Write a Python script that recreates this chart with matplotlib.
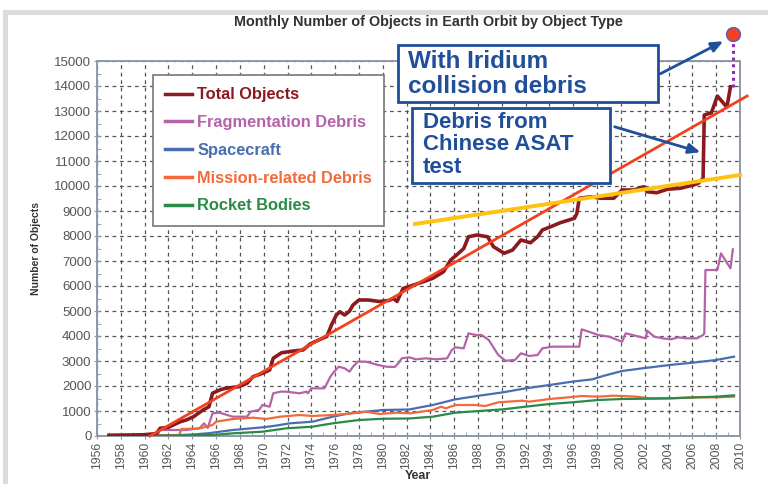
import matplotlib
matplotlib.use("Agg")
import matplotlib.pyplot as plt
from matplotlib.patches import Rectangle
from matplotlib.ticker import MultipleLocator

plt.rcParams['font.family'] = ['Liberation Sans', 'DejaVu Sans']

# ---------------- data ----------------
total_years = [1957.0, 1960.0, 1961.0, 1961.3, 1962.0, 1963.0, 1963.5, 1964.1, 1964.9, 1965.4,
               1965.7, 1966.3, 1966.8, 1967.9, 1968.6, 1969.1, 1969.9, 1970.5, 1970.8, 1971.5,
               1972.5, 1973.3, 1973.9, 1974.7, 1975.3, 1975.7, 1976.1, 1976.4, 1976.8, 1977.2,
               1977.5, 1978.0, 1978.8, 1979.7, 1980.5, 1980.9, 1981.2, 1981.7, 1982.6, 1983.4,
               1984.2, 1985.1, 1985.7, 1986.2, 1986.8, 1987.2, 1987.9, 1988.8, 1989.3, 1990.2,
               1990.9, 1991.6, 1992.4, 1993.0, 1993.4, 1994.1, 1994.9, 1996.1, 1996.3, 1996.5,
               1997.5, 1998.3, 1999.4, 2000.1, 2001.1, 2001.9, 2002.2, 2003.0, 2003.9, 2005.0,
               2006.1, 2006.5, 2006.9, 2007.0, 2007.6, 2008.1, 2008.9, 2009.2]
total_values = [30, 50, 100, 310, 350, 573, 640, 770, 1040, 1170,
                1710, 1840, 1910, 1970, 2110, 2370, 2510, 2640, 3110, 3330,
                3400, 3440, 3680, 3860, 3980, 4450, 4840, 4970, 4840, 4990,
                5240, 5440, 5440, 5380, 5420, 5500, 5380, 5900, 6040, 6170,
                6310, 6570, 7040, 7240, 7500, 7970, 8040, 7970, 7570, 7310,
                7440, 7840, 7730, 7970, 8240, 8370, 8530, 8710, 8900, 9510,
                9570, 9510, 9510, 9840, 9840, 9970, 9770, 9730, 9870, 9910,
                10040, 10110, 10310, 12840, 12930, 13600, 13150, 13970]

frag_years = [1957.0, 1961.0, 1961.3, 1963.5, 1964.6, 1965.0, 1965.3, 1965.7, 1966.3, 1967.4,
              1968.6, 1968.9, 1969.6, 1969.9, 1970.5, 1970.8, 1971.4, 1971.9, 1973.0, 1973.6,
              1973.7, 1974.0, 1975.1, 1975.6, 1975.8, 1976.3, 1976.8, 1977.2, 1977.5, 1977.9,
              1978.6, 1979.6, 1980.3, 1981.0, 1981.3, 1981.6, 1982.2, 1982.8, 1983.6, 1984.5,
              1985.4, 1985.8, 1986.1, 1986.8, 1987.2, 1987.8, 1988.3, 1988.9, 1989.7, 1990.3,
              1991.1, 1991.6, 1992.3, 1993.0, 1993.4, 1994.2, 1995.6, 1996.5, 1996.7, 1997.3,
              1998.1, 1999.0, 2000.1, 2000.4, 2001.3, 2002.1, 2002.2, 2002.8, 2003.5, 2004.2,
              2004.8, 2005.5, 2006.4, 2006.9, 2007.0, 2007.1, 2008.1, 2008.4, 2009.2, 2009.4]
frag_values = [0, 0, 240, 240, 307, 507, 320, 907, 933, 773,
               773, 973, 1040, 1240, 1173, 1707, 1773, 1773, 1707, 1773,
               1707, 1907, 1907, 2373, 2507, 2773, 2707, 2573, 2773, 2973,
               2973, 2840, 2773, 2760, 2907, 3107, 3147, 3067, 3107, 3067,
               3107, 3440, 3547, 3507, 4107, 4040, 4040, 3840, 3240, 3013,
               3040, 3307, 3200, 3240, 3507, 3573, 3573, 3573, 4267, 4173,
               4040, 3973, 3773, 4107, 4000, 3907, 4213, 3973, 3907, 3867,
               3947, 3907, 3907, 4040, 4100, 6640, 6640, 7307, 6707, 7467]

sc_years = [1957.0, 1962.0, 1964.0, 1965.3, 1967.4, 1969.9, 1971.0, 1972.2, 1974.1, 1975.8,
            1977.2, 1978.6, 1980.0, 1982.2, 1984.2, 1986.1, 1988.1, 1990.1, 1992.0, 1994.0,
            1995.9, 1997.6, 1998.5, 2000.1, 2001.8, 2004.1, 2006.3, 2008.0, 2009.5]
sc_values = [0, 20, 60, 107, 240, 347, 413, 507, 573, 773,
             907, 973, 1040, 1060, 1240, 1467, 1613, 1747, 1907, 2040,
             2173, 2267, 2400, 2600, 2707, 2840, 2947, 3040, 3173]

mission_years = [1957.0, 1962.9, 1963.1, 1964.6, 1965.7, 1966.0, 1967.4, 1969.1, 1970.2, 1971.4,
                 1973.0, 1974.1, 1975.8, 1977.5, 1978.6, 1979.7, 1981.2, 1982.3, 1984.2, 1984.9,
                 1985.3, 1986.1, 1987.8, 1988.6, 1989.7, 1991.7, 1992.3, 1994.0, 1995.6, 1996.7,
                 1998.1, 1999.3, 2000.1, 2001.3, 2002.4, 2004.1, 2006.3, 2008.0, 2009.5]
mission_values = [0, 40, 280, 300, 440, 573, 680, 733, 680, 773,
                  840, 800, 840, 907, 973, 880, 933, 907, 1040, 1173,
                  1107, 1240, 1240, 1200, 1347, 1413, 1373, 1480, 1547, 1600,
                  1573, 1613, 1600, 1573, 1507, 1507, 1547, 1547, 1573]

rb_years = [1957.0, 1962.0, 1965.7, 1967.4, 1969.9, 1971.9, 1974.1, 1975.8, 1978.0, 1980.0,
            1982.2, 1984.2, 1986.1, 1988.1, 1990.1, 1992.0, 1994.0, 1995.9, 1998.1, 2000.1,
            2002.4, 2004.1, 2006.3, 2008.0, 2009.5]
rb_values = [0, 20, 40, 107, 173, 307, 373, 507, 640, 690,
             700, 773, 933, 1000, 1067, 1173, 1280, 1347, 1440, 1480,
             1493, 1507, 1547, 1573, 1627]

trend_red_x = [1960.45, 2010.6]
trend_red_y = [0, 13600]
trend_yellow_x = [1982.7, 2010.0]
trend_yellow_y = [8480, 10440]

iridium_point = (2009.4, 16080)
iridium_base_y = 13970

labels = ["Total Objects", "Fragmentation Debris", "Spacecraft",
          "Mission-related Debris", "Rocket Bodies"]
colors = ["#8B1A1F", "#B463A8", "#4A6DB0", "#F26A3C", "#2A8A48"]

# ---------------- figure ----------------
W, H = 768, 484
fig = plt.figure(figsize=(W / 100, H / 100), dpi=100)
fig.patch.set_facecolor("white")

def fx(px):
    return px / W

def fy(py):
    return 1 - py / H

# grey frame
fig.patches.append(Rectangle((fx(3), fy(15)), fx(765), 5 / H, transform=fig.transFigure,
                             facecolor="#DCDCDC", edgecolor="none", zorder=0))
fig.patches.append(Rectangle((fx(3), 0), 5 / W, fy(15), transform=fig.transFigure,
                             facecolor="#DCDCDC", edgecolor="none", zorder=0))

ax = fig.add_axes([fx(97), fy(436), (740 - 97) / W, (436 - 61) / H])

ax.set_xlim(1956, 2010)
ax.set_ylim(0, 15000)

ax.plot(frag_years, frag_values, color=colors[1], lw=1.6, zorder=3, label=labels[1])
ax.plot(sc_years, sc_values, color=colors[2], lw=1.6, zorder=3, label=labels[2])
ax.plot(mission_years, mission_values, color=colors[3], lw=1.6, zorder=3, label=labels[3])
ax.plot(rb_years, rb_values, color=colors[4], lw=1.6, zorder=3, label=labels[4])
ax.plot(total_years, total_values, color=colors[0], lw=2.6, zorder=4, label=labels[0])

ax.plot(trend_red_x, trend_red_y, color="#F2411F", lw=2.0, zorder=5, clip_on=False)
ax.plot(trend_yellow_x, trend_yellow_y, color="#FFC20E", lw=2.8, zorder=5, clip_on=False)

# Iridium marker and dotted line
ax.plot([iridium_point[0], iridium_point[0]], [iridium_base_y, iridium_point[1]],
        color="#8A2BB0", lw=2.2, ls=(0, (1, 1.2)), zorder=6, clip_on=False)
ax.plot([iridium_point[0]], [iridium_point[1]], marker="o", ms=10, mfc="#F2411F",
        mec="#5A5AC8", mew=1, zorder=7, clip_on=False)

# axes styling
ax.xaxis.set_major_locator(MultipleLocator(2))
ax.xaxis.set_minor_locator(MultipleLocator(1))
ax.yaxis.set_major_locator(MultipleLocator(1000))
ax.yaxis.set_minor_locator(MultipleLocator(500))
ax.grid(True, which="major", color="#555555", ls=(0, (3, 3)), lw=0.9, zorder=1)
ax.tick_params(axis="x", which="major", labelrotation=90, labelsize=8.8,
               labelcolor="#555555", color="#8C99A6", length=4, direction="inout", pad=2)
ax.tick_params(axis="y", which="major", labelsize=9.5, labelcolor="#555555",
               color="#8C99A6", length=4, direction="inout", pad=2)
ax.tick_params(which="minor", color="#8C99A6", length=3, direction="in")
for s in ax.spines.values():
    s.set_color("#8C99A6")
    s.set_linewidth(1.4)

ax.set_xticks(range(1956, 2011, 2))
ax.set_xticklabels([str(y) for y in range(1956, 2011, 2)])

ax.set_ylabel("Number of Objects", fontsize=7.5, fontweight="bold", color="#333333", labelpad=10)
fig.text(fx(418), fy(476), "Year", ha="center", va="center",
         fontsize=9, fontweight="bold", color="#333333")

fig.text(fx(428), fy(22), "Monthly Number of Objects in Earth Orbit by Object Type",
         ha="center", va="center", fontsize=10.4, fontweight="bold", color="#333333")

# legend
handles, labs = ax.get_legend_handles_labels()
order = [4, 0, 1, 2, 3]
leg = ax.legend([handles[i] for i in order], [labs[i] for i in order],
                loc="upper left", bbox_to_anchor=((153 - 97) / 643, (436 - 75) / 375),
                borderaxespad=0,
                fancybox=False, framealpha=1, edgecolor="#777777",
                prop={"weight": "bold", "size": 11.8}, handlelength=1.6,
                labelspacing=0.78, borderpad=0.75, handletextpad=0.35,
                labelcolor="linecolor")
leg.get_frame().set_linewidth(1.2)
leg.set_zorder(8)
for line in leg.get_lines():
    line.set_linewidth(2.5)

blue = "#1F4E9A"

def box(x0, y0, x1, y1):
    r = Rectangle((fx(x0), fy(y1)), (x1 - x0) / W, (y1 - y0) / H, transform=fig.transFigure,
                  facecolor="white", edgecolor=blue, lw=2.0, zorder=20)
    fig.patches.append(r)

box(398, 45, 658, 102)
fig.text(fx(408), fy(74), "With Iridium\ncollision debris", ha="left", va="center",
         fontsize=17.5, fontweight="bold", color=blue, linespacing=1.08, zorder=21)

box(412, 108, 610, 183)
fig.text(fx(423), fy(145), "Debris from\nChinese ASAT\ntest", ha="left", va="center",
         fontsize=16, fontweight="bold", color=blue, linespacing=1.1, zorder=21)

# arrows
ax.annotate("", xy=(2008.8, 15840), xycoords="data",
            xytext=(fx(658), fy(75)), textcoords="figure fraction",
            arrowprops=dict(arrowstyle="-|>,head_length=0.7,head_width=0.3", color=blue, lw=2),
            annotation_clip=False, zorder=22)
ax.annotate("", xy=(2006.9, 11320), xycoords="data",
            xytext=(fx(612), fy(126)), textcoords="figure fraction",
            arrowprops=dict(arrowstyle="-|>,head_length=0.7,head_width=0.3", color=blue, lw=2),
            annotation_clip=False, zorder=22)

fig.savefig("out.png", dpi=100)
